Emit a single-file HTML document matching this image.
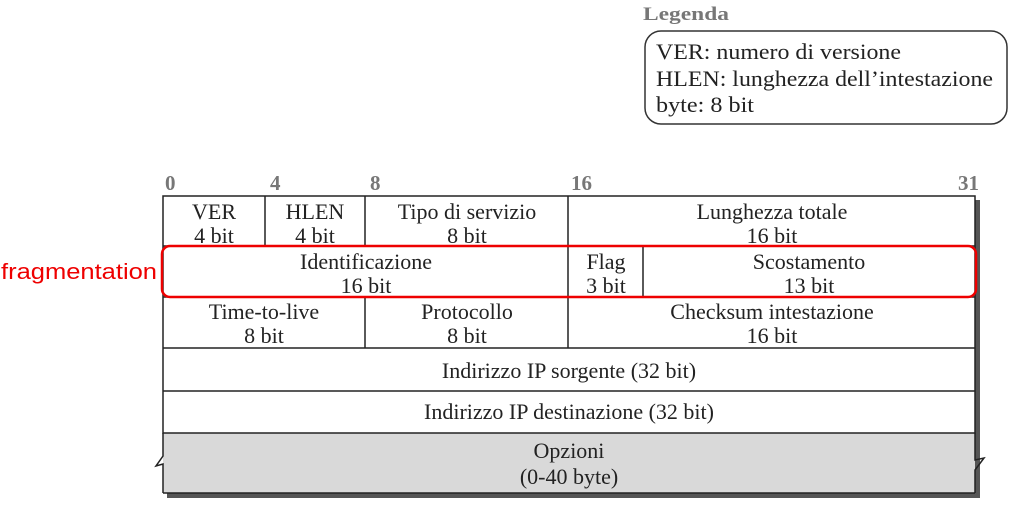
<!DOCTYPE html>
<html><head><meta charset="utf-8"><style>
html,body{margin:0;padding:0;background:#fff;}
svg{display:block}
text{font-family:"Liberation Serif",serif;fill:#222;}
</style></head><body>
<svg width="1012" height="508" viewBox="0 0 1012 508">
<text x="643" y="20" font-size="19" font-weight="bold" style="fill:#777" textLength="86" lengthAdjust="spacingAndGlyphs">Legenda</text>
<rect x="645" y="31" width="362" height="93" rx="16" fill="none" stroke="#333" stroke-width="1.5"/>
<text x="656" y="59" font-size="22" textLength="245" lengthAdjust="spacingAndGlyphs">VER: numero di versione</text>
<text x="656" y="86" font-size="22" textLength="337" lengthAdjust="spacingAndGlyphs">HLEN: lunghezza dell’intestazione</text>
<text x="656" y="112" font-size="22" textLength="98" lengthAdjust="spacingAndGlyphs">byte: 8 bit</text>

<g font-size="21" font-weight="bold">
<text x="165" y="190" style="fill:#777">0</text>
<text x="270" y="190" style="fill:#777">4</text>
<text x="370" y="190" style="fill:#777">8</text>
<text x="571" y="190" style="fill:#777">16</text>
<text x="958" y="190" style="fill:#777">31</text>
</g>

<rect x="975" y="200" width="5" height="297" fill="#555"/>
<rect x="167" y="493" width="813" height="5" fill="#555"/>
<rect x="163" y="433" width="812" height="60" fill="#d9d9d9"/>
<g fill="none" stroke="#222" stroke-width="1.5">
<rect x="163" y="196" width="812" height="237"/>
<line x1="163" y1="246" x2="975" y2="246"/>
<line x1="163" y1="297" x2="975" y2="297"/>
<line x1="163" y1="348" x2="975" y2="348"/>
<line x1="163" y1="391" x2="975" y2="391"/>
<line x1="265" y1="196" x2="265" y2="246"/>
<line x1="365" y1="196" x2="365" y2="246"/>
<line x1="568" y1="196" x2="568" y2="348"/>
<line x1="643" y1="246" x2="643" y2="297"/>
<line x1="365" y1="297" x2="365" y2="348"/>
<path d="M163,433 L163,456 L156,466 L163,464 L163,493"/>
<path d="M975,433 L975,460 L984,458 L975,470 L975,493"/>
<line x1="163" y1="493" x2="975" y2="493"/>
</g>

<g font-size="22" text-anchor="middle">
<text x="214" y="219">VER</text><text x="214" y="243">4 bit</text>
<text x="315" y="219">HLEN</text><text x="315" y="243">4 bit</text>
<text x="467" y="219">Tipo di servizio</text><text x="467" y="243">8 bit</text>
<text x="772" y="219">Lunghezza totale</text><text x="772" y="243">16 bit</text>
<text x="366" y="269">Identificazione</text><text x="366" y="293">16 bit</text>
<text x="606" y="269">Flag</text><text x="606" y="293">3 bit</text>
<text x="809" y="269">Scostamento</text><text x="809" y="293">13 bit</text>
<text x="264" y="319">Time-to-live</text><text x="264" y="343">8 bit</text>
<text x="467" y="319">Protocollo</text><text x="467" y="343">8 bit</text>
<text x="772" y="319">Checksum intestazione</text><text x="772" y="343">16 bit</text>
<text x="569" y="378">Indirizzo IP sorgente (32 bit)</text>
<text x="569" y="419">Indirizzo IP destinazione (32 bit)</text>
<text x="569" y="458">Opzioni</text>
<text x="569" y="484">(0-40 byte)</text>
</g>

<rect x="162" y="246" width="814" height="51" rx="8" fill="none" stroke="#e00" stroke-width="2.5"/>
<text x="1" y="279" font-size="22" textLength="156" lengthAdjust="spacingAndGlyphs" style="fill:#e00;font-family:'Liberation Sans',sans-serif">fragmentation</text>
</svg>
</body></html>
